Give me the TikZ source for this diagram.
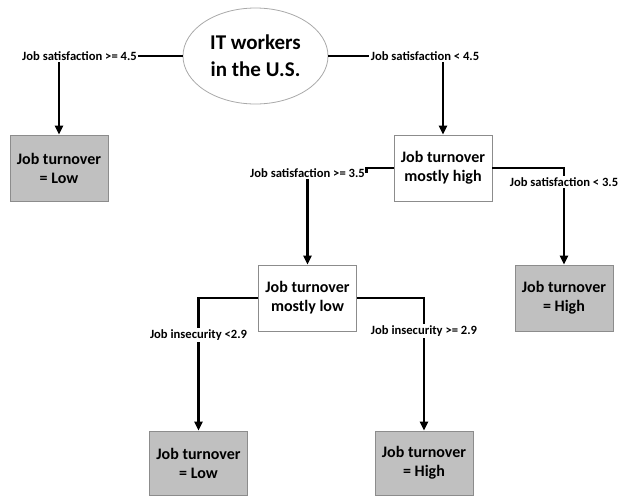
\documentclass[tikz,border=0pt]{standalone}
\usepackage{fontspec}
\setmainfont{Carlito}
\usetikzlibrary{arrows.meta, positioning, shapes.geometric}
\definecolor{Leaf_Gray}{HTML}{C0C0C0}
\definecolor{Border_Gray}{HTML}{8C8C8C}

\begin{document}
\begin{tikzpicture}[
    x=1pt, y=-1pt,
    >={Triangle[length=9pt, width=8pt]},
    rootnode/.style={
        ellipse,
        draw=Border_Gray!75,
        line width=0.8pt,
        fill=white,
        minimum width=145pt,
        minimum height=96pt,
        align=center,
        font=\bfseries\fontsize{21}{27}\selectfont
    },
    splitbox/.style={
        rectangle,
        draw=Border_Gray,
        line width=0.8pt,
        fill=white,
        minimum width=98pt,
        minimum height=66pt,
        align=center,
        inner sep=2pt,
        font=\bfseries\fontsize{16}{19}\selectfont
    },
    leafbox/.style={
        splitbox,
        fill=Leaf_Gray
    },
    cond/.style={
        font=\bfseries\fontsize{12.6}{14}\selectfont,
        inner sep=1.5pt
    },
    branch/.style={
        draw=black,
        line width=2.3pt
    }
]
\useasboundingbox (0,0) rectangle (618,496);

% Nodes
\node[rootnode] (IT) at (255.5, 56) {IT workers\\in the U.S.};

\node[leafbox] (LowA) at (59, 168) {Job turnover\\= Low};
\node[splitbox] (MostlyHigh) at (443, 168) {Job turnover\\mostly high};

\node[splitbox] (MostlyLow) at (307.5, 298) {Job turnover\\mostly low};
\node[leafbox] (HighA) at (564, 298) {Job turnover\\= High};

\node[leafbox, minimum height=64pt] (LowB) at (198.5, 463) {Job turnover\\= Low};
\node[leafbox, minimum height=64pt] (HighB) at (424, 463) {Job turnover\\= High};

% Split conditions
\node[cond] (Sat45ge) at (79.5, 56) {Job satisfaction >= 4.5};
\node[cond] (Sat45lt) at (425, 56) {Job satisfaction < 4.5};
\node[cond] (Sat35ge) at (307.5, 173) {Job satisfaction >= 3.5};
\node[cond] (Sat35lt) at (564, 182) {Job satisfaction < 3.5};
\node[cond] (Ins29lt) at (198.5, 335) {Job insecurity <2.9};
\node[cond] (Ins29ge) at (424, 331) {Job insecurity >= 2.9};

% Root split
\draw[branch] (IT.west) -- (Sat45ge.east);
\draw[branch, ->] (Sat45ge.south -| LowA.north) -- (LowA.north);
\draw[branch] (IT.east) -- (Sat45lt.west);
\draw[branch, ->] (Sat45lt.south -| MostlyHigh.north) -- (MostlyHigh.north);

% Mostly high split
\draw[branch] (MostlyHigh.west) -| (Sat35ge.east);
\draw[branch, ->] (Sat35ge.south) -- (MostlyLow.north);
\draw[branch] (MostlyHigh.east) -| (Sat35lt.north);
\draw[branch, ->] (Sat35lt.south) -- (HighA.north);

% Mostly low split
\draw[branch] (MostlyLow.west) -| (Ins29lt.north);
\draw[branch, ->] (Ins29lt.south) -- (LowB.north);
\draw[branch] (MostlyLow.east) -| (Ins29ge.north);
\draw[branch, ->] (Ins29ge.south) -- (HighB.north);

\end{tikzpicture}
\end{document}
